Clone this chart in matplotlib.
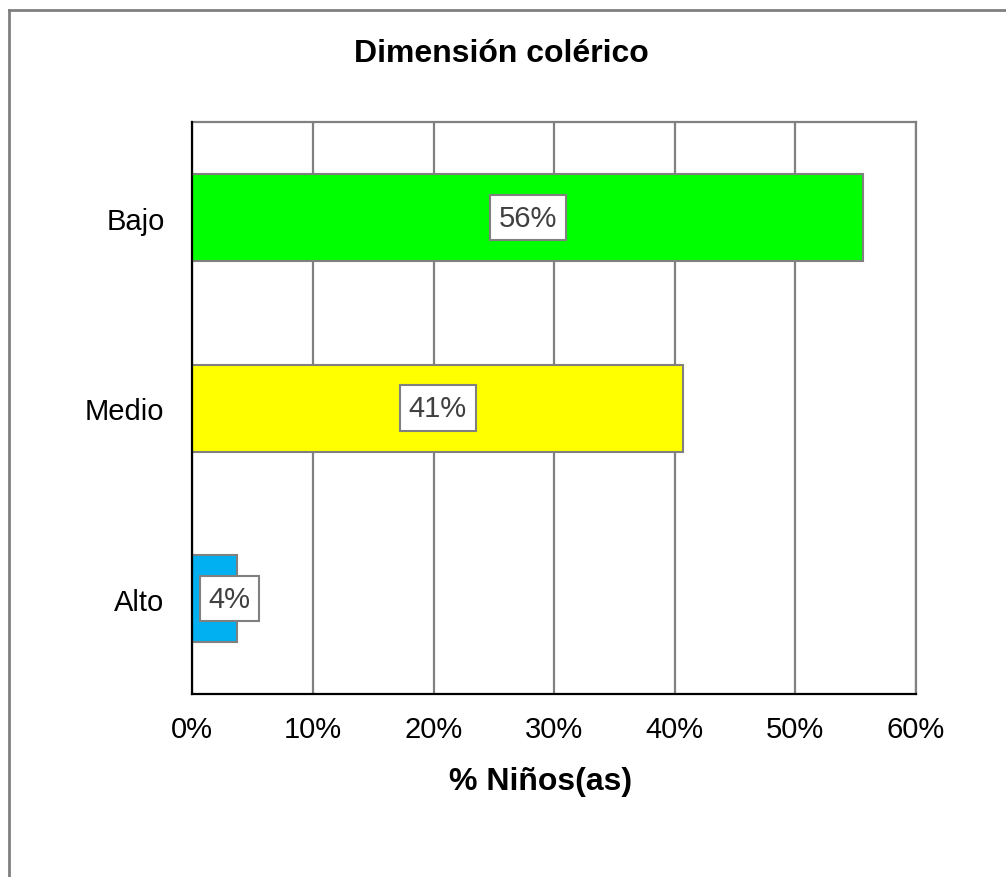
import matplotlib
matplotlib.use("Agg")
import matplotlib.pyplot as plt
from matplotlib.lines import Line2D

categories = ["Alto", "Medio", "Bajo"]
values = [3.7, 40.7, 55.6]
labels = ["4%", "41%", "56%"]
colors = ["#00B0F0", "#FFFF00", "#00FF00"]
xticks = [0, 10, 20, 30, 40, 50, 60]
xticklabels = ["0%", "10%", "20%", "30%", "40%", "50%", "60%"]
title = "Dimensión colérico"
xlabel = "% Niños(as)"

plt.rcParams['font.family'] = ['Liberation Sans', 'DejaVu Sans']

fig = plt.figure(figsize=(10.06, 8.78), dpi=100)
ax = fig.add_axes([0.1912, 0.2084, 0.7193, 0.6512])

ypos = list(range(len(categories)))
ax.barh(ypos, values, height=0.456, color=colors, edgecolor="#808080",
        linewidth=1.5, zorder=3)
ax.set_xlim(0, 60)
ax.set_ylim(-0.5, 2.5)
ax.set_xticks(xticks)
ax.set_xticklabels(xticklabels, fontsize=21)
ax.set_yticks(ypos)
ax.set_yticklabels(categories, fontsize=21)
ax.tick_params(axis="both", length=0)
ax.tick_params(axis="x", pad=15)
ax.tick_params(axis="y", pad=20)
ax.grid(axis="x", color="#808080", linewidth=1.6, zorder=0)
for s in ["top", "right"]:
    ax.spines[s].set_color("#808080")
    ax.spines[s].set_linewidth(1.6)
for s in ["left", "bottom"]:
    ax.spines[s].set_color("black")
    ax.spines[s].set_linewidth(1.6)
    ax.spines[s].set_zorder(4)

for y, v, lab in zip(ypos, values, labels):
    xc = max(v / 2, 3.1)
    ax.text(xc, y, lab, ha="center", va="center", fontsize=21, color="#404040",
            zorder=5,
            bbox=dict(boxstyle="square,pad=0.3", facecolor="white",
                      edgecolor="#808080", linewidth=1.5))

fig.text(0.498, 0.939, title, ha="center", va="center", fontsize=23,
         fontweight="bold")
fig.text(0.537, 0.109, xlabel, ha="center", va="center", fontsize=23,
         fontweight="bold")

fig.add_artist(Line2D([8.5 / 1006, 8.5 / 1006], [0, 1 - 10.5 / 878],
                      transform=fig.transFigure, color="#808080", linewidth=2))
fig.add_artist(Line2D([8.5 / 1006, 1], [1 - 10.5 / 878, 1 - 10.5 / 878],
                      transform=fig.transFigure, color="#808080", linewidth=2))

fig.savefig("out.png", dpi=100)
